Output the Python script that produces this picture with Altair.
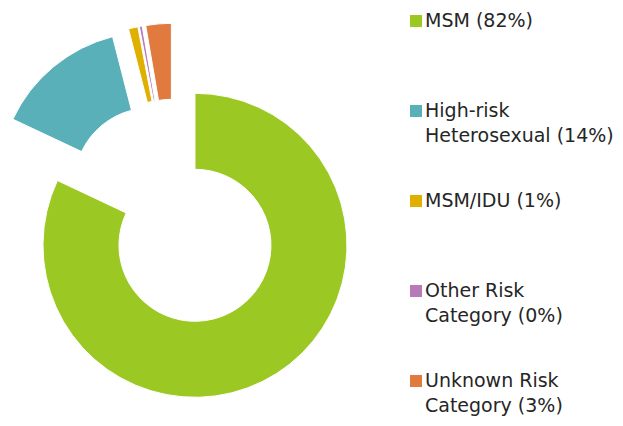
import altair as alt
import pandas as pd

# ---- data ----
categories = ["MSM", "High-risk Heterosexual", "MSM/IDU", "Other Risk Category", "Unknown Risk Category"]
values = [82.0, 14.0, 1.0, 0.3, 2.7]
legend_labels = [
    "MSM (82%)",
    "High-risk\nHeterosexual (14%)",
    "MSM/IDU (1%)",
    "Other Risk\nCategory (0%)",
    "Unknown Risk\nCategory (3%)",
]
colors = ["#9BC823", "#5AB0B9", "#E0B000", "#B77CB7", "#E07A3F"]

# ---- layout constants ----
CX, CY = 166.6, 205.2   # pie centre (plot coords)
EXPLODE = 38            # slice explosion distance
R_OUT, R_IN = 152, 76

df = pd.DataFrame({
    "category": categories,
    "value": values,
    "label": legend_labels,
    "order": list(range(len(categories))),
})

color = alt.Color("category:N", scale=alt.Scale(domain=categories, range=colors), legend=None)

pie = alt.Chart(df).transform_window(
    end="sum(value)", sort=[alt.SortField("order")], frame=[None, 0]
).transform_joinaggregate(
    total="sum(value)"
).transform_calculate(
    start="datum.end - datum.value",
    mid="PI * (2 * datum.end - datum.value) / datum.total",
    px=f"{CX} + {EXPLODE} * sin(datum.mid)",
    py=f"{CY} - {EXPLODE} * cos(datum.mid)",
).mark_arc(outerRadius=R_OUT, innerRadius=R_IN, stroke="white", strokeWidth=1).encode(
    theta=alt.Theta("start:Q", scale=alt.Scale(domain=[0, 100])),
    theta2="end:Q",
    x=alt.X("px:Q", scale=None),
    y=alt.Y("py:Q", scale=None),
    color=color,
)

ypos = alt.Y(
    "category:N",
    sort=categories,
    scale=alt.Scale(type="point", domain=categories, range=[13, 373], padding=0),
    axis=None,
)

symbols = alt.Chart(df).mark_square(size=144, opacity=1, filled=True).encode(
    x=alt.value(408),
    y=ypos,
    color=color,
)

texts = alt.Chart(df).mark_text(
    align="left", baseline="middle", lineBreak="\n",
    font="DejaVu Sans", fontSize=19, lineHeight=25, color="#262626",
).encode(
    x=alt.value(417),
    y=ypos,
    text="label:N",
)

chart = alt.layer(pie, symbols, texts).resolve_scale(
    y="independent", x="independent"
).properties(
    width=607, height=410, padding=0,
    autosize=alt.AutoSizeParams(type="none"),
).configure_view(stroke=None)

chart.save("out.html", embed_options={"renderer": "svg", "actions": False})
